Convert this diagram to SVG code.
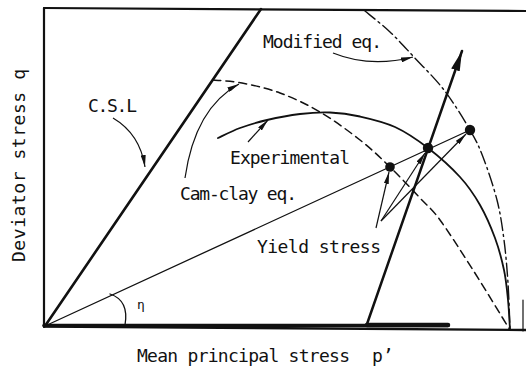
<svg xmlns="http://www.w3.org/2000/svg" width="526" height="367" viewBox="0 0 526 367">
<style>
.lbl{font-family:"DejaVu Sans Mono","Liberation Mono",monospace;font-size:18px;fill:#111}
.ln{fill:none;stroke:#111;stroke-linecap:round;stroke-linejoin:round}
.lead{fill:none;stroke:#111;stroke-width:1.2}
.dot{fill:#111}
</style>
<defs>
<marker id="ah" viewBox="0 0 12 5" refX="12" refY="2.5" markerWidth="12" markerHeight="5" orient="auto" markerUnits="userSpaceOnUse">
<path d="M0,0 L12,2.5 L0,5 z" fill="#111"/>
</marker>
<marker id="ahBig" viewBox="0 0 20 9" refX="20" refY="4.5" markerWidth="20" markerHeight="9" orient="auto" markerUnits="userSpaceOnUse">
<path d="M0,0 L20,4.5 L0,9 z" fill="#111"/>
</marker>
</defs>
<rect width="526" height="367" fill="#fff"/>

<g id="frame">
<path class="ln" d="M44,8 L526,11" stroke-width="2.2"/>
<path class="ln" d="M44,8 L44,327" stroke-width="2.2"/>
<path class="ln" d="M44,326.5 L526,330" stroke-width="2.4"/>
<path class="ln" d="M44,325.5 L448,325.5" stroke-width="3.5"/>
<path class="ln" d="M367,325 L448,325" stroke-width="4.5"/>
<path class="ln" d="M523,300 L523,331" stroke-width="1.2" stroke="#666"/>
</g>

<g id="csl">
<path class="ln" d="M45,326 L261,9" stroke-width="2.6"/>
<text class="lbl" x="88" y="112" textLength="49">C.S.L</text>
</g>

<g id="camclay-curve">
<path class="ln" stroke-width="1.5" stroke-dasharray="8 5" d="M213,80 C217.8,80.5 230.8,80.8 242,83 C253.2,85.2 267,88.2 280,93 C293,97.8 306.7,104.2 320,112 C333.3,119.8 348.3,130.8 360,140 C371.7,149.2 380,157.3 390,167 C400,176.7 411.7,189.2 420,198 C428.3,206.8 431.2,208 440,220 C448.8,232 461.3,251.7 473,270 C484.7,288.3 503.8,320 510,330"/>
<text class="lbl" x="180" y="200" textLength="117">Cam-clay eq.</text>
</g>

<g id="experimental-curve">
<path class="ln" stroke-width="1.8" d="M218,138 C221.7,136.3 231.8,131 240,128 C248.2,125 257,122.3 267,120 C277,117.7 289.5,115.3 300,114 C310.5,112.75 320,112.1 330,112.5 C340,112.9 349.2,114.1 360,116.5 C370.8,118.9 383.7,121.75 395,127 C406.3,132.25 417.2,139.7 428,148 C438.8,156.3 451.3,167.5 460,177 C468.7,186.5 474.2,194.8 480,205 C485.8,215.2 491,227.2 495,238 C499,248.8 501.8,259.7 504,270 C506.2,280.3 507,290 508,300 C509,310 509.7,325 510,330"/>
<text class="lbl" x="230" y="164" textLength="120">Experimental</text>
</g>

<g id="modified-curve">
<path class="ln" stroke-width="1.4" stroke-dasharray="13 4 2 4" d="M365,11 C369.2,14.5 382,24.5 390,32 C398,39.5 404,46.3 413,56 C422,65.7 434.5,77.7 444,90 C453.5,102.3 463.5,118.8 470,130 C476.5,141.2 478.5,145.3 483,157 C487.5,168.7 493.5,186.2 497,200 C500.5,213.8 502.2,226.2 504,240 C505.8,253.8 507,268 508,283 C509,298 509.7,322.2 510,330"/>
<text class="lbl" x="263" y="48" textLength="119">Modified eq.</text>
</g>

<g id="stress-ratio">
<path class="ln" stroke-width="1.3" d="M45,326 L470,130"/>
<path class="ln" stroke-width="1.3" d="M110,294 C122,298 128,308 125,325"/>
<text class="lbl" x="137" y="309" style="font-size:13px">η</text>
</g>

<g id="stress-path">
<path class="ln" stroke-width="2.5" d="M367,324 L462,51" marker-end="url(#ahBig)"/>
</g>

<g id="yield-points">
<circle class="dot" cx="390" cy="167" r="4.8"/>
<circle class="dot" cx="428" cy="148" r="5.2"/>
<circle class="dot" cx="470" cy="130" r="5.2"/>
<text class="lbl" x="257" y="253" textLength="124">Yield stress</text>
</g>

<g id="connectors">
<path class="lead" d="M113,118 Q140,134 145,167" marker-end="url(#ah)"/>
<path class="lead" d="M333,53 Q370,68 413,57" marker-end="url(#ah)"/>
<path class="lead" d="M185,178 Q195,108 239,84" marker-end="url(#ah)"/>
<path class="lead" d="M248,142 L268,120" marker-end="url(#ah)"/>
<path class="lead" d="M376,228 L389,172" marker-end="url(#ah)"/>
<path class="lead" d="M381,221 L425,153" marker-end="url(#ah)"/>
<path class="lead" d="M381,221 L466,134" marker-end="url(#ah)"/>
</g>

<g id="axis-labels">
<text class="lbl" x="137" y="362" textLength="213">Mean principal stress</text>
<text class="lbl" x="372" y="362">p’</text>
<text class="lbl" transform="translate(25,262) rotate(-90)" textLength="193">Deviator stress q</text>
</g>
</svg>
